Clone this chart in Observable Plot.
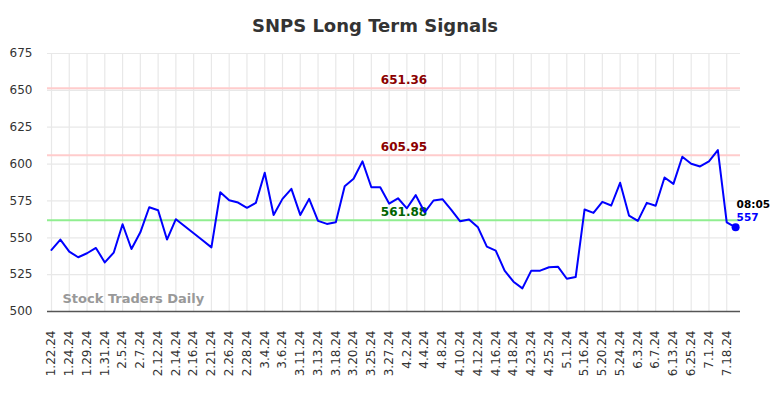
<!DOCTYPE html>
<html>
<head>
<meta charset="utf-8">
<script src="https://cdn.jsdelivr.net/npm/d3@7"></script>
<script src="https://cdn.jsdelivr.net/npm/@observablehq/plot@0.6"></script>
<style>
  body { margin: 0; background: #fff; font-family: "DejaVu Sans", sans-serif; }
  #title { width: 784px; height: 40px; box-sizing: border-box; padding-top: 12px; padding-right: 34px;
           line-height: 28px; text-align: center; font-size: 18px; font-weight: bold; color: #333; }
</style>
</head>
<body>
<div id="title">SNPS Long Term Signals</div>
<div id="chart"></div>
<script>
const values = [
  541.8, 548.8, 540.6, 536.8, 539.5, 543.1, 533.3, 539.9, 559.2, 542.4,
  553.7, 570.7, 568.7, 548.8, 562.6, 557.8, 553.1, 548.3, 543.5, 580.9,
  575.5, 573.9, 570.3, 573.7, 594.1, 565.5, 576.4, 583.2, 565.5, 576.4,
  561.5, 559.4, 560.5, 585.0, 590.0, 601.8, 584.3, 584.3, 573.2, 576.8,
  570.0, 578.9, 567.3, 575.3, 576.2, 569.0, 561.2, 562.4, 557.1, 544.0,
  541.3, 527.7, 520.2, 515.7, 527.7, 527.7, 530.0, 530.4, 522.2, 523.4,
  569.2, 566.9, 574.4, 571.9, 587.3, 565.1, 561.5, 573.7, 571.7, 590.9,
  586.6, 605.0, 600.2, 598.4, 601.8, 609.5, 560.5, 557.1
];
const tickLabels = [
  "1.22.24", "1.24.24", "1.29.24", "1.31.24", "2.5.24", "2.7.24", "2.12.24", "2.14.24",
  "2.16.24", "2.21.24", "2.26.24", "2.28.24", "3.4.24", "3.6.24", "3.11.24", "3.13.24",
  "3.18.24", "3.20.24", "3.25.24", "3.27.24", "4.2.24", "4.4.24", "4.8.24", "4.10.24",
  "4.12.24", "4.16.24", "4.18.24", "4.23.24", "4.25.24", "5.1.24", "5.16.24", "5.20.24",
  "5.24.24", "6.3.24", "6.7.24", "6.13.24", "6.25.24", "7.1.24", "7.18.24"
];
const resistance = [651.36, 605.95];
const support = [561.88];
const yTicks = [500, 525, 550, 575, 600, 625, 650, 675];
const lastTime = "08:05";
const watermark = "Stock Traders Daily";

const data = values.map((v, i) => ({i, v}));
const last = data[data.length - 1];
const xTicks = tickLabels.map((_, k) => k * 2);
const mid = Math.floor(values.length / 2);

const chart = Plot.plot({
  width: 784,
  height: 358,
  marginTop: 13,
  marginBottom: 87,
  marginLeft: 47,
  marginRight: 44,
  style: {fontFamily: "DejaVu Sans, sans-serif", color: "#333", background: "#fff"},
  x: {domain: [-0.45, values.length - 0.45]},
  y: {domain: [yTicks[0], yTicks[yTicks.length - 1]]},
  marks: [
    Plot.gridY({ticks: yTicks, stroke: "#e8e8e8", strokeOpacity: 1, strokeWidth: 1.2}),
    Plot.gridX({ticks: xTicks, stroke: "#e8e8e8", strokeOpacity: 1, strokeWidth: 1.2}),
    Plot.axisY({ticks: yTicks, tickSize: 0, tickPadding: 15, fontSize: 12, label: null}),
    Plot.axisX({ticks: xTicks, tickFormat: i => tickLabels[i / 2], tickRotate: -90, tickSize: 0, tickPadding: 19, fontSize: 12, label: null}),
    Plot.ruleY(resistance, {stroke: "#ffcccc", strokeWidth: 2}),
    Plot.ruleY(support, {stroke: "#90ee90", strokeWidth: 2}),
    Plot.ruleY([yTicks[0]], {stroke: "#555", strokeWidth: 1.5}),
    Plot.text(resistance, {x: mid, y: d => d, text: d => d.toFixed(2), dx: 6, dy: -8, fill: "#8b0000", fontWeight: "bold", fontSize: 12}),
    Plot.text(support, {x: mid, y: d => d, text: d => d.toFixed(2), dx: 6, dy: -8, fill: "#006400", fontWeight: "bold", fontSize: 12}),
    Plot.text([watermark], {frameAnchor: "bottom-left", text: d => d, dx: 15, dy: -9, textAnchor: "start", fill: "#999", fontWeight: "bold", fontSize: 13}),
    Plot.line(data, {x: "i", y: "v", stroke: "#0000ff", strokeWidth: 2}),
    Plot.dot([last], {x: "i", y: "v", r: 4, fill: "#0000ff"}),
    Plot.text([last], {x: "i", y: "v", text: () => lastTime, dx: 1, dy: -23, textAnchor: "start", fill: "#000", fontWeight: "bold", fontSize: 10.5}),
    Plot.text([last], {x: "i", y: "v", text: d => String(Math.round(d.v)), dx: 1, dy: -10, textAnchor: "start", fill: "#0000ff", fontWeight: "bold", fontSize: 10.5})
  ]
});
document.getElementById("chart").appendChild(chart);
</script>
</body>
</html>
